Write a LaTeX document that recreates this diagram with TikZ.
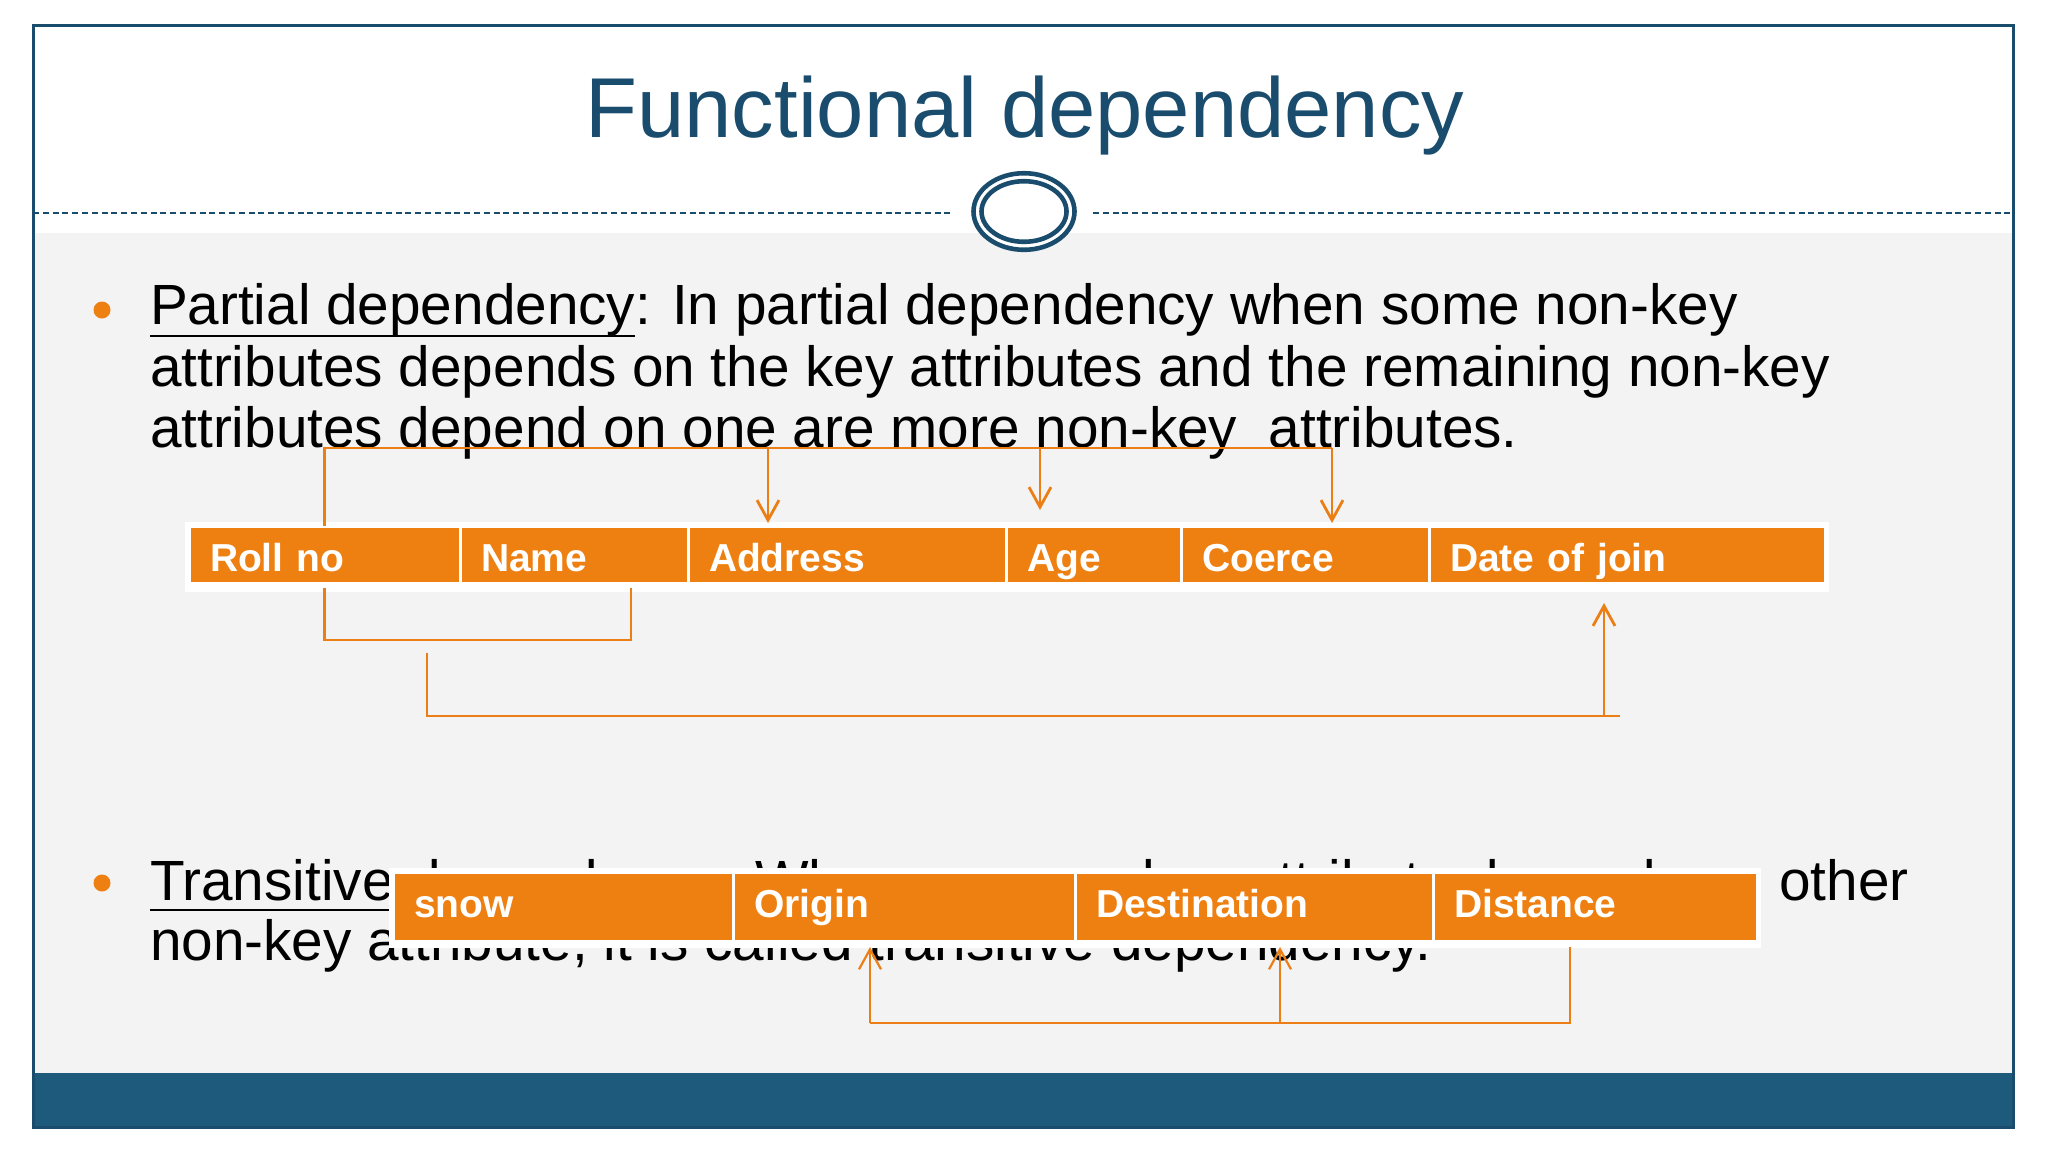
\documentclass[tikz,border=0pt]{standalone}
\usepackage{fontspec}
\setmainfont{Liberation Sans}
\usetikzlibrary{arrows.meta,calc}
\definecolor{titleblue}{RGB}{26,77,109}
\definecolor{barblue}{RGB}{29,90,124}
\definecolor{tblorange}{RGB}{238,127,17}
\definecolor{lineorange}{RGB}{236,126,22}
\definecolor{bggrey}{RGB}{243,243,244}
\begin{document}
\begin{tikzpicture}[x=0.5pt,y=-0.5pt,
  cell/.style={draw=white, line width=1.5pt, fill=tblorange, anchor=north west,
    inner xsep=10.5pt, inner ysep=0pt, outer sep=0pt, text height=22.5pt, text depth=6pt,
    align=left, font=\fontsize{19.5}{22}\selectfont\bfseries, text=white},
  cellb/.style={cell, text depth=12pt},
  body/.style={anchor=base west, inner sep=0pt, outer sep=0pt,
    font=\fontsize{28.35}{34}\selectfont, text=black},
  conn/.style={draw=lineorange, line width=1.4pt},
  arr/.style={conn, -{Straight Barb[length=10pt,width=11pt]}},
  conntwo/.style={draw=lineorange, line width=1.1pt},
  arrtwo/.style={conntwo, -{Straight Barb[length=10pt,width=11pt]}},
  ulbar/.style={line width=1.4pt, black},
  bullet/.style={circle, fill=tblorange, inner sep=0pt, minimum size=8.5pt}
]
\useasboundingbox (0,0) rectangle (2048,1152);
\fill[white] (0,0) rectangle (2048,1152);
% background
\fill[bggrey] (34,233) rectangle (2012,1073);
\fill[barblue] (33,1073) rectangle (2013,1127);
\draw[titleblue, line width=1.5pt] (33,25) rectangle (2013,1127);
% dashed rule and ring
\draw[titleblue, line width=1.2pt, dash pattern=on 3pt off 1.9pt] (33,213) -- (953,213);
\draw[titleblue, line width=1.2pt, dash pattern=on 3pt off 1.9pt] (1093,213) -- (2013,213);
\draw[titleblue, line width=2.3pt, fill=white] (1024,211.5) ellipse [x radius=25.25pt, y radius=19.15pt];
\draw[titleblue, line width=2.3pt] (1024,211.5) ellipse [x radius=21.25pt, y radius=15.15pt];
% title
\node[anchor=base, inner sep=0pt, font=\fontsize{42.5}{50}\selectfont, text=titleblue] (title) at (1025,137) {Functional dependency};
% bullet 1
\node[bullet] (b1) at (102,310) {};
\node[body] (l1a) at (150,324) {Partial dependency};
\node[body, anchor=base west] (l1b) at (l1a.base east) {: In partial dependency when some non-key};
\node[body] (l2) at (150,386) {attributes depends on the key attributes and the remaining non-key};
\node[body] (l3) at (150,447) {attributes depend on one are more non-key\ \ attributes.};
\draw[ulbar] ([yshift=-6pt]l1a.base west) -- ([yshift=-6pt]l1a.base east);
% bullet 2
\node[bullet] (b2) at (102,883) {};
\node[body] (l5a) at (150,900) {Transitive dependency};
\node[body, anchor=base west] (l5b) at (l5a.base east) {: When one non-key attribute depends on other};
\node[body] (l6) at (150,960) {non-key attribute, it is called transitive dependency.};
\draw[ulbar] ([yshift=-5pt]l5a.base west) -- ([yshift=-5pt]l5a.base east);
% table 1
\fill[white] (185,522) rectangle (1829,592);
\node[cell, text width=114.5pt] (c1) at (189,526) {Roll no};
\node[cell, text width=93pt] (c2) at (c1.north east) {Name};
\node[cell, text width=138pt] (c3) at (c2.north east) {Address};
\node[cell, text width=66.5pt] (c4) at (c3.north east) {Age};
\node[cell, text width=103pt] (c5) at (c4.north east) {Coerce};
\node[cell, text width=177pt] (c6) at (c5.north east) {Date of join};
% table 2
\fill[white] (389,868) rectangle (1761,948);
\node[cellb, text width=149pt] (t1) at (393,872) {snow};
\node[cellb, text width=150pt] (t2) at (t1.north east) {Origin};
\node[cellb, text width=158pt] (t3) at (t2.north east) {Destination};
\node[cellb, text width=141pt] (t4) at (t3.north east) {Distance};
% connectors table 1
\coordinate (hbar) at (0,448);
\coordinate (aAdd) at ([xshift=40pt,yshift=1.5pt]c3.north west);
\coordinate (aAge) at ([xshift=17pt,yshift=8pt]c4.north west);
\coordinate (aCoe) at ([xshift=75.5pt,yshift=1.5pt]c5.north west);
\draw[conn] (c1.north) |- (aCoe |- hbar);
\draw[arr] (aAdd |- hbar) -- (aAdd);
\draw[arr] (aAge |- hbar) -- (aAge);
\draw[arr] (aCoe |- hbar) -- (aCoe);
\coordinate (nb) at ([xshift=85.5pt,yshift=-2.5pt]c2.south west);
\draw[conn] ([yshift=-2.5pt]c1.south) |- ($(nb)+(0,52)$) -- (nb);
\coordinate (ls) at ([xshift=119pt,yshift=-35pt]c1.south west);
\coordinate (aDoj) at ([xshift=87.5pt,yshift=-10pt]c6.south west);
\coordinate (lowbar) at (0,716);
\coordinate (lend) at ([xshift=8pt]aDoj |- lowbar);
\draw[conn] (ls) |- (lend);
\draw[arr] (aDoj |- lowbar) -- (aDoj);
% connectors table 2
\coordinate (lowbartwo) at (0,1023);
\coordinate (dsrc) at ([xshift=68.5pt,yshift=-3pt]t4.south west);
\coordinate (aOri) at ([xshift=68.5pt,yshift=-3pt]t2.south west);
\coordinate (aDes) at ([xshift=102.5pt,yshift=-3pt]t3.south west);
\draw[conntwo] (dsrc) |- (aOri |- lowbartwo);
\draw[arrtwo] (aOri |- lowbartwo) -- (aOri);
\draw[arrtwo] (aDes |- lowbartwo) -- (aDes);
\end{tikzpicture}
\end{document}
